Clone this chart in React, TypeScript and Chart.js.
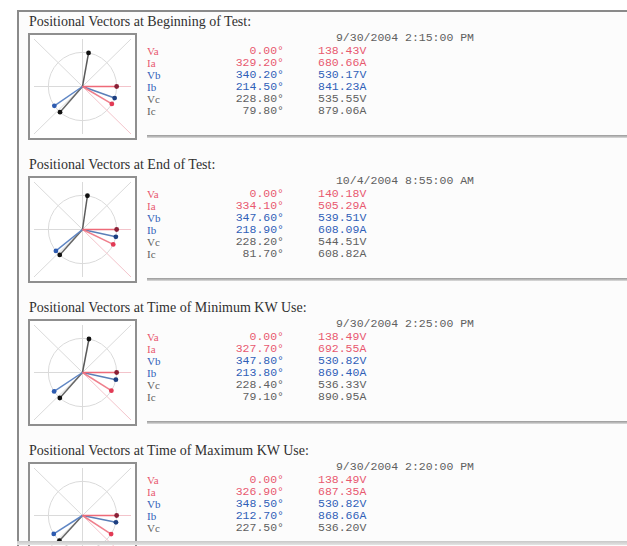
import React, { useEffect, useRef } from "react";
import { Chart, registerables } from "chart.js";

Chart.register(...registerables);

// ---------- data ----------
const panelTitles = [
  "Positional Vectors at Beginning of Test:",
  "Positional Vectors at End of Test:",
  "Positional Vectors at Time of Minimum KW Use:",
  "Positional Vectors at Time of Maximum KW Use:",
];
const timestamps = [
  "9/30/2004 2:15:00 PM",
  "10/4/2004 8:55:00 AM",
  "9/30/2004 2:25:00 PM",
  "9/30/2004 2:20:00 PM",
];
const phaseLabels = ["Va", "Ia", "Vb", "Ib", "Vc", "Ic"];
const anglesBeginning = [0.0, 329.2, 340.2, 214.5, 228.8, 79.8];
const anglesEnd = [0.0, 334.1, 347.6, 218.9, 228.2, 81.7];
const anglesMinKW = [0.0, 327.7, 347.8, 213.8, 228.4, 79.1];
const anglesMaxKW = [0.0, 326.9, 348.5, 212.7, 227.5];
const magnitudesBeginning = ["138.43V", "680.66A", "530.17V", "841.23A", "535.55V", "879.06A"];
const magnitudesEnd = ["140.18V", "505.29A", "539.51V", "608.09A", "544.51V", "608.82A"];
const magnitudesMinKW = ["138.49V", "692.55A", "530.82V", "869.40A", "536.33V", "890.95A"];
const magnitudesMaxKW = ["138.49V", "687.35A", "530.82V", "868.66A", "536.20V"];

const panelAngles = [anglesBeginning, anglesEnd, anglesMinKW, anglesMaxKW];
const panelMagnitudes = [magnitudesBeginning, magnitudesEnd, magnitudesMinKW, magnitudesMaxKW];

// ---------- styles ----------
const textColors = ["#e8586f", "#e8586f", "#3060b8", "#3060b8", "#606060", "#606060"];
const lineColors = ["#ee6a78", "#ef7f8c", "#5b7fb8", "#5f86c4", "#666", "#5a5a5a"];
const dotColors = ["#8a2036", "#e23a55", "#1d3f80", "#2d5bb0", "#111", "#111"];

const W = 627;
const H = 546;
const PITCH = 143;
const TOP = 10;
const BOX_W = 109;
const BOX_H = 107;
const ROW = 12;

const gridPlugin = {
  id: "vectorGrid",
  beforeDatasetsDraw(chart: any) {
    const { ctx, chartArea, scales } = chart;
    const cx = scales.x.getPixelForValue(0);
    const cy = scales.y.getPixelForValue(0);
    const r = scales.x.getPixelForValue(1) - cx;
    ctx.save();
    ctx.strokeStyle = "#dadada";
    ctx.lineWidth = 1;
    ctx.beginPath();
    ctx.arc(cx, cy, r, 0, Math.PI * 2);
    ctx.stroke();
    ctx.beginPath();
    ctx.moveTo(chartArea.left, cy);
    ctx.lineTo(cx, cy);
    ctx.moveTo(cx, chartArea.top);
    ctx.lineTo(cx, chartArea.bottom);
    ctx.moveTo(chartArea.left, chartArea.top);
    ctx.lineTo(cx, cy);
    ctx.moveTo(chartArea.right, chartArea.top);
    ctx.lineTo(chartArea.left, chartArea.bottom);
    ctx.stroke();
    ctx.strokeStyle = "#f3c4cb";
    ctx.beginPath();
    ctx.moveTo(cx, cy);
    ctx.lineTo(chartArea.right, cy);
    ctx.moveTo(cx, cy);
    ctx.lineTo(chartArea.right, chartArea.bottom);
    ctx.stroke();
    ctx.restore();
  },
};

function VectorChart({ angles }: { angles: number[] }) {
  const ref = useRef<HTMLCanvasElement | null>(null);
  useEffect(() => {
    const canvas = ref.current!;
    const w = BOX_W - 4;
    const h = BOX_H - 4;
    const xr = 1.42;
    const yr = (xr * h) / w;
    const chart = new Chart(canvas, {
      type: "scatter",
      data: {
        datasets: angles.map((a, i) => {
          const rad = (a * Math.PI) / 180;
          return {
            label: phaseLabels[i],
            data: [
              { x: 0, y: 0 },
              { x: Math.cos(rad), y: Math.sin(rad) },
            ],
            showLine: true,
            borderColor: lineColors[i],
            borderWidth: 1.5,
            pointRadius: [0, 2.4],
            pointBackgroundColor: dotColors[i],
            pointBorderWidth: 0,
          };
        }),
      },
      options: {
        animation: false,
        responsive: false,
        layout: { padding: 0 },
        plugins: { legend: { display: false }, tooltip: { enabled: false } },
        scales: {
          x: { type: "linear", min: -xr, max: xr, display: false },
          y: { type: "linear", min: -yr, max: yr, display: false },
        },
      },
      plugins: [gridPlugin],
    });
    return () => chart.destroy();
  }, [angles]);
  return <canvas ref={ref} width={BOX_W - 4} height={BOX_H - 4} style={{ display: "block" }} />;
}

export default function App() {
  const mono = "'Liberation Mono', 'DejaVu Sans Mono', monospace";
  const serif = "'Liberation Serif', 'DejaVu Serif', serif";
  return (
    <div style={{ position: "absolute", left: 0, top: 0, width: W, height: H, background: "#fff", overflow: "hidden" }}>
      {/* frame */}
      <div style={{ position: "absolute", left: 17, top: TOP, width: W - 17, height: H - TOP, background: "#fcfcfc" }} />
      <div style={{ position: "absolute", left: 17, top: TOP, width: W - 17, height: 2, background: "#8a8a8a" }} />
      {panelTitles.map((title, k) => {
        const y0 = TOP + k * PITCH;
        const angles = panelAngles[k];
        const mags = panelMagnitudes[k];
        return (
          <React.Fragment key={k}>
            <div style={{ position: "absolute", left: 29, top: y0 + 4, fontFamily: serif, fontSize: 14, color: "#303030", lineHeight: "16px", whiteSpace: "nowrap" }}>
              {title}
            </div>
            <div style={{ position: "absolute", left: 28, top: y0 + 23, width: BOX_W - 4, height: BOX_H - 4, border: "2px solid #8f8f8f", background: "#fff" }}>
              <VectorChart angles={angles} />
            </div>
            <div style={{ position: "absolute", left: 300, width: 174, top: y0 + 22, fontFamily: mono, fontSize: 11.5, color: "#606060", textAlign: "right", lineHeight: "12px", whiteSpace: "pre" }}>
              {timestamps[k]}
            </div>
            {angles.map((a, i) => {
              const top = y0 + 35 + i * ROW;
              return (
                <React.Fragment key={i}>
                  <div style={{ position: "absolute", left: 147, top, fontFamily: serif, fontSize: 11, color: textColors[i], lineHeight: "12px" }}>
                    {phaseLabels[i]}
                  </div>
                  <div style={{ position: "absolute", left: 200, width: 84, top, fontFamily: mono, fontSize: 11.5, color: textColors[i], lineHeight: "12px", textAlign: "right" }}>
                    {a.toFixed(2) + "°"}
                  </div>
                  <div style={{ position: "absolute", left: 318, top, fontFamily: mono, fontSize: 11.5, color: textColors[i], lineHeight: "12px" }}>
                    {mags[i]}
                  </div>
                </React.Fragment>
              );
            })}
            {k < 3 && (
              <div style={{ position: "absolute", left: 147, top: y0 + 125, width: W - 147, height: 3, background: "linear-gradient(#999, #b8b8b8, #dedede)" }} />
            )}
          </React.Fragment>
        );
      })}
      <div style={{ position: "absolute", left: 17, top: TOP, width: 2, height: H - TOP, background: "#8a8a8a" }} />
      <div style={{ position: "absolute", left: 17, top: H - 5, width: W - 17, height: 4, background: "linear-gradient(#c8c8c8, #e4e4e4)" }} />
    </div>
  );
}
